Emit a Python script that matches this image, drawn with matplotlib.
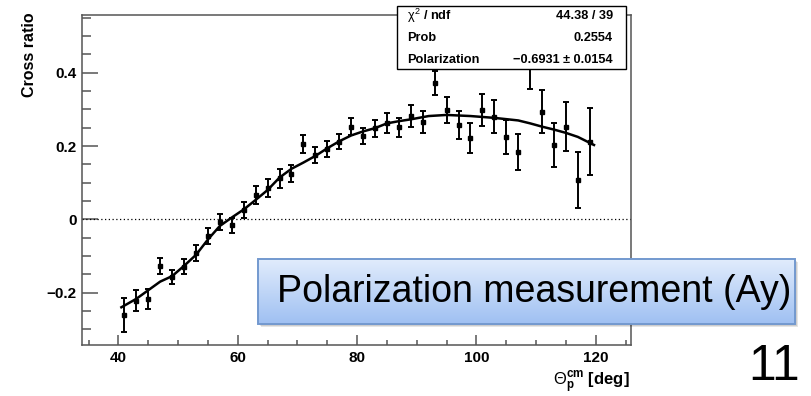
import matplotlib
matplotlib.use("Agg")
import matplotlib.pyplot as plt
import numpy as np
from matplotlib.patches import Rectangle
from matplotlib.colors import LinearSegmentedColormap
from matplotlib.ticker import MultipleLocator

plt.rcParams['font.family'] = ['Liberation Sans', 'DejaVu Sans']
plt.rcParams['mathtext.fontset'] = 'custom'
plt.rcParams['mathtext.rm'] = 'Liberation Sans'
plt.rcParams['mathtext.it'] = 'Liberation Sans'
plt.rcParams['mathtext.bf'] = 'Liberation Sans:bold'

# measured points
angle = [41, 43, 45, 47, 49, 51, 53, 55, 57, 59,
         61, 63, 65, 67, 69, 71, 73, 75, 77, 79,
         81, 83, 85, 87, 89, 91, 93, 95, 97, 99,
         101, 103, 105, 107, 109, 111, 113, 115, 117, 119]
ratio = [-0.261, -0.222, -0.218, -0.127, -0.157, -0.129, -0.093, -0.045, -0.007, -0.016,
         0.025, 0.066, 0.085, 0.112, 0.125, 0.205, 0.175, 0.191, 0.212, 0.253,
         0.228, 0.248, 0.264, 0.251, 0.282, 0.266, 0.373, 0.298, 0.257, 0.221,
         0.298, 0.280, 0.224, 0.184, 0.420, 0.294, 0.203, 0.253, 0.107, 0.212]
ratio_err = [0.046, 0.029, 0.027, 0.021, 0.020, 0.020, 0.022, 0.022, 0.022, 0.020,
             0.021, 0.024, 0.025, 0.026, 0.023, 0.024, 0.022, 0.022, 0.021, 0.023,
             0.022, 0.022, 0.027, 0.027, 0.031, 0.031, 0.033, 0.035, 0.039, 0.041,
             0.044, 0.045, 0.046, 0.049, 0.065, 0.058, 0.059, 0.067, 0.077, 0.091]

# fit curve
fit_angle = [40.5, 43, 47, 49, 51, 53, 55, 57, 59, 61, 63, 65, 67, 69, 71, 73, 75, 77,
             79, 81, 83, 85, 87, 89, 92, 95, 99, 103, 107, 109, 111, 113, 115, 117, 119.7]
fit_ratio = [-0.240, -0.217, -0.170, -0.155, -0.127, -0.097, -0.055, -0.018, 0.005, 0.027,
             0.053, 0.080, 0.114, 0.138, 0.155, 0.173, 0.194, 0.213, 0.229, 0.240,
             0.249, 0.262, 0.268, 0.273, 0.282, 0.285, 0.282, 0.277, 0.270, 0.262,
             0.253, 0.245, 0.236, 0.225, 0.203]

stats_names = [r'$\chi^{2}$ / ndf', 'Prob', 'Polarization']
stats_values = ['44.38 / 39', '0.2554', '\u22120.6931 \u00b1 0.0154']

W, H = 811, 396
fig = plt.figure(figsize=(W / 100, H / 100), dpi=100)
ax = fig.add_axes([82 / W, 1 - 345 / H, (631 - 82) / W, (345 - 15.3) / H])

ax.errorbar(angle, ratio, yerr=ratio_err, fmt='s', color='black', ms=3,
            elinewidth=1.4, capsize=2, capthick=1.4, zorder=3)
ax.plot(fit_angle, fit_ratio, color='black', lw=1.8, zorder=4)
ax.axhline(0, color='black', lw=0.9, ls=(0, (1, 2)), zorder=2)

ax.set_xlim(33.9, 125.9)
ax.set_ylim(-0.343, 0.557)
ax.xaxis.set_major_locator(MultipleLocator(20))
ax.xaxis.set_minor_locator(MultipleLocator(5))
ax.yaxis.set_major_locator(MultipleLocator(0.2))
ax.yaxis.set_minor_locator(MultipleLocator(0.05))
ax.set_yticks([-0.2, 0, 0.2, 0.4])
ax.set_yticklabels(['\u22120.2', '0', '0.2', '0.4'])

for s in ax.spines.values():
    s.set_color('#555555')
    s.set_linewidth(1.1)
ax.tick_params(axis='both', which='both', direction='in', colors='#555555',
               labelcolor='black', width=1.1, top=False, right=False)
ax.tick_params(axis='x', which='major', length=7.2, pad=4)
ax.tick_params(axis='x', which='minor', length=3.6)
ax.tick_params(axis='y', which='major', length=11.5, pad=4)
ax.tick_params(axis='y', which='minor', length=6.5)
for lab in ax.get_xticklabels() + ax.get_yticklabels():
    lab.set_fontsize(11)
    lab.set_fontweight('bold')

fig.text(29 / W, 1 - 12 / H, 'Cross ratio', rotation=90, ha='center', va='top',
         fontsize=11.5, fontweight='bold')
fig.text(630 / W, 1 - 370 / H, r'$\Theta_{\mathbf{p}}^{\mathbf{cm}}$ [deg]',
         ha='right', va='top', fontsize=12, fontweight='bold')

# stats box
fig.add_artist(Rectangle((397 / W, 1 - 69.3 / H), (626 - 397) / W, (69.3 - 6) / H,
                         transform=fig.transFigure, facecolor='white',
                         edgecolor='black', lw=1.0, zorder=5))
for i, (name, val) in enumerate(zip(stats_names, stats_values)):
    yy = 1 - (16 + 22 * i) / H
    fig.text(407 / W, yy, name, ha='left', va='center', fontsize=9.2,
             fontweight='bold', zorder=6)
    fig.text(613 / W, yy, val, ha='right', va='center', fontsize=9.2,
             fontweight='bold', zorder=6)

# blue title box with shadow
bx0, bx1, by0, by1 = 258, 795, 259, 324
for k, a in enumerate([0.10, 0.10, 0.12]):
    off = 3 - k
    fig.add_artist(Rectangle(((bx0 + off) / W, 1 - (by1 + off) / H), (bx1 - bx0) / W,
                             (by1 - by0) / H, transform=fig.transFigure,
                             facecolor='black', edgecolor='none', alpha=a, zorder=6))
bax = fig.add_axes([bx0 / W, 1 - by1 / H, (bx1 - bx0) / W, (by1 - by0) / H], zorder=7)
cmap = LinearSegmentedColormap.from_list('blues', ['#e1ecfc', '#9fc0f2'])
bax.imshow(np.linspace(0, 1, 100).reshape(-1, 1), aspect='auto', cmap=cmap,
           extent=[0, 1, 0, 1])
bax.set_xlim(0, 1)
bax.set_ylim(0, 1)
bax.axis('off')
bax.add_patch(Rectangle((0, 0), 1, 1, transform=bax.transAxes, facecolor='none',
                        edgecolor='#7399cf', lw=1.4, clip_on=False))
bax.text(0.515, 0.5, 'Polarization measurement (Ay)', ha='center', va='center',
         fontsize=27, color='black', transform=bax.transAxes)

fig.text(800 / W, 1 - 380 / H, '11', ha='right', va='baseline', fontsize=36)

fig.savefig('out.png', dpi=100)
